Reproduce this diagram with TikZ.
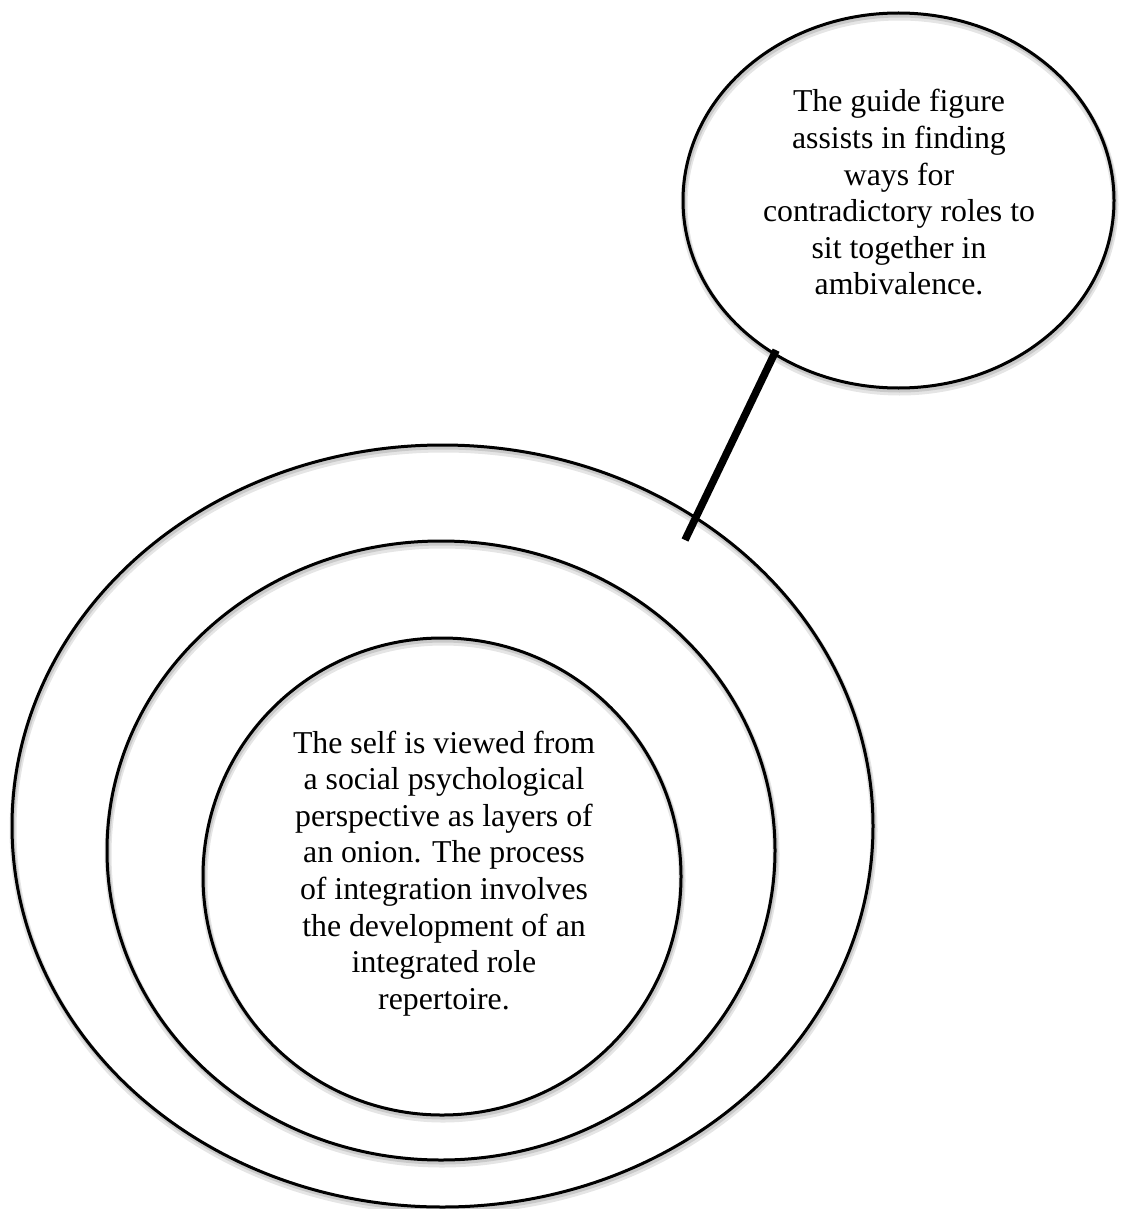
\documentclass[tikz,border=0pt]{standalone}
\usepackage{fontspec}
\setmainfont{Liberation Serif}
\usetikzlibrary{shapes.geometric}
\tikzset{
  ring/.style={ellipse, draw=black, line width=3pt, inner sep=0pt, outer sep=0pt,
    preaction={draw=black, opacity=0.10, line width=7pt, transform canvas={shift={(1pt,-4pt)}}},
    preaction={draw=black, opacity=0.12, line width=4pt, transform canvas={shift={(1pt,-2.5pt)}}}},
  txt/.style={inner sep=0pt, outer sep=0pt, font=\fontsize{31.8pt}{36.6pt}\selectfont},
  stick/.style={line width=7.5pt, line cap=butt, black}
}
\begin{document}
\begin{tikzpicture}[x=1pt, y=-1pt]
\useasboundingbox (0,0) rectangle (1121,1209);
% onion layers
\node[ring, minimum width=861pt, minimum height=762pt] (outer) at (442.5,826) {};
\node[ring, minimum width=668pt, minimum height=619pt] (middle) at (441,850.5) {};
\node[ring, minimum width=478pt, minimum height=477pt] (inner) at (442,876.5) {};
% guide figure
\node[ring, minimum width=431pt, minimum height=375pt] (guide) at (898.5,200.5) {};
% texts
\node[txt, anchor=base] (selftext) at (444,753) {\begin{tabular}[t]{@{}c@{}}The self is viewed from\\ a social psychological\\ perspective as layers of\\ an onion. The process\\ of integration involves\\ the development of an\\ integrated role\\ repertoire.\end{tabular}};
\node[txt, anchor=base] (guidetext) at (899,112) {\begin{tabular}[t]{@{}c@{}}The guide figure\\ assists in finding\\ ways for\\ contradictory roles to\\ sit together in\\ ambivalence.\end{tabular}};
% connector
\coordinate (tail) at (685,540);
\draw[stick, shorten <=-4pt] (guide.231.5) -- (tail);
\end{tikzpicture}
\end{document}
